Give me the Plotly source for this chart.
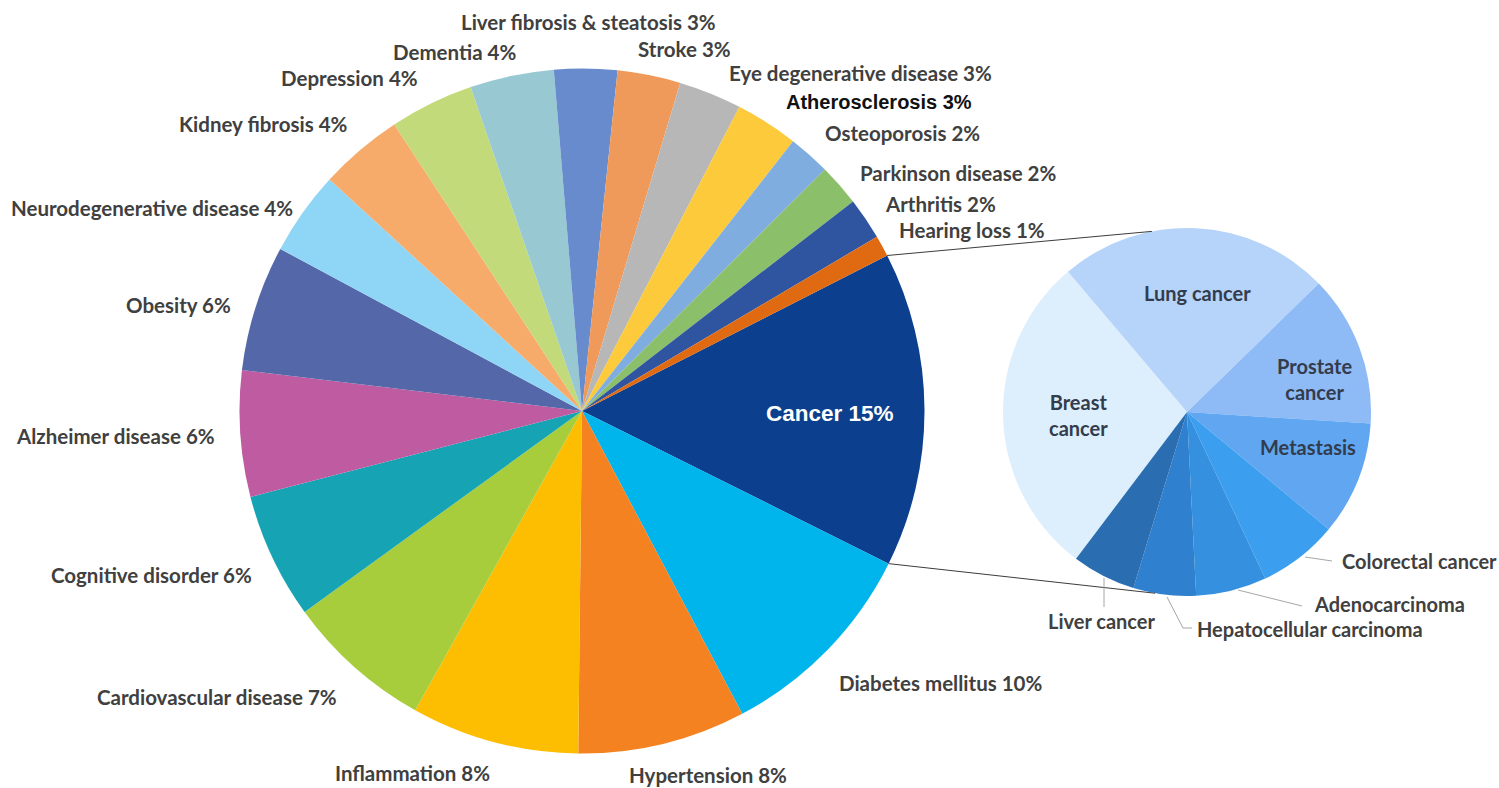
import math
import plotly.graph_objects as go

# ---- data -------------------------------------------------------------
diseases = [
    "Cancer", "Diabetes mellitus", "Hypertension", "Inflammation",
    "Cardiovascular disease", "Cognitive disorder", "Alzheimer disease",
    "Obesity", "Neurodegenerative disease", "Kidney fibrosis", "Depression",
    "Dementia", "Liver fibrosis & steatosis", "Stroke",
    "Eye degenerative disease", "Atherosclerosis", "Osteoporosis",
    "Parkinson disease", "Arthritis", "Hearing loss",
]
disease_pct = [15, 10, 8, 8, 7, 6, 6, 6, 4, 4, 4, 4, 3, 3, 3, 3, 2, 2, 2, 1]

cancers = [
    "Breast cancer", "Lung cancer", "Prostate cancer", "Metastasis",
    "Colorectal cancer", "Adenocarcinoma", "Hepatocellular carcinoma",
    "Liver cancer",
]
cancer_share = [28.5, 23.9, 13.3, 10.0, 7.0, 6.2, 5.5, 5.6]

# ---- styling ----------------------------------------------------------
disease_colors = [
    "#0c3f8e", "#00b4ec", "#f58220", "#fdbd00", "#a8cd3c", "#16a4b4",
    "#bf5ba0", "#5468a9", "#8fd5f5", "#f7ab6b", "#c2da79", "#98c8d2",
    "#678bcc", "#ef9a5a", "#b7b7b7", "#fcca3a", "#7faddf", "#8bbf69",
    "#2f55a0", "#e06a12",
]
cancer_colors = [
    "#ddeefc", "#b6d3fa", "#8ebaf5", "#60a6f1", "#3c9eef", "#3590df",
    "#2f80cf", "#2a6db1",
]

W, H = 1499, 788
MAIN_C, MAIN_R = (582.0, 411.0), 342.5
SUB_C, SUB_R = (1187.0, 412.0), 184.0
MAIN_ROT = 63.0      # compass angle where the first slice starts
SUB_ROT = 217.1
LINK_TOP_DEG, LINK_BOTTOM_DEG = 349.0, 190.0

FONT = "Lato"
TXT = "#404040"
LABEL_SIZE = 20.5
SUB_LABEL_SIZE = 20


def px(x):
    return x / W


def py(y):
    return 1 - y / H


def domain(c, r):
    return dict(x=[px(c[0] - r), px(c[0] + r)], y=[py(c[1] + r), py(c[1] - r)])


def on_circle(c, r, deg):
    a = math.radians(deg)
    return c[0] + r * math.sin(a), c[1] - r * math.cos(a)


fig = go.Figure()
fig.add_trace(go.Pie(
    labels=diseases, values=disease_pct, sort=False, direction="clockwise",
    rotation=MAIN_ROT, marker=dict(colors=disease_colors, line=dict(width=0)),
    textinfo="none", hovertemplate="%{label}: %{value}%<extra></extra>",
    domain=domain(MAIN_C, MAIN_R), showlegend=False,
))
fig.add_trace(go.Pie(
    labels=cancers, values=cancer_share, sort=False, direction="clockwise",
    rotation=SUB_ROT, marker=dict(colors=cancer_colors, line=dict(width=0)),
    textinfo="none", hovertemplate="%{label}<extra></extra>",
    domain=domain(SUB_C, SUB_R), showlegend=False,
))

# connector lines from the Cancer slice edges to the breakdown pie
total = sum(disease_pct)
cancer_start = MAIN_ROT
cancer_end = MAIN_ROT + 360.0 * disease_pct[0] / total
shapes = []
for main_deg, sub_deg in ((cancer_start, LINK_TOP_DEG), (cancer_end, LINK_BOTTOM_DEG)):
    x0, y0 = on_circle(MAIN_C, MAIN_R, main_deg)
    x1, y1 = on_circle(SUB_C, SUB_R, sub_deg)
    shapes.append(dict(type="line", xref="paper", yref="paper",
                       x0=px(x0), y0=py(y0), x1=px(x1), y1=py(y1),
                       line=dict(color="#3c3c3c", width=1)))

# leader lines for the small breakdown slices
leaders = [
    [(1305, 557), (1332, 561)],
    [(1238, 590), (1302, 606)],
    [(1167, 597), (1183, 628), (1192, 628)],
    [(1104, 578), (1104, 607)],
]
for pts in leaders:
    path = "M " + " L ".join(f"{px(x)} {py(y)}" for x, y in pts)
    shapes.append(dict(type="path", xref="paper", yref="paper", path=path,
                       line=dict(color="#a6a6a6", width=1)))

# label positions (pixel centres) for the disease slices
disease_label_pos = [
    (830, 413), (940, 683), (708, 775), (413, 773), (217, 697), (151, 575),
    (115, 436), (178, 305), (152, 208), (263, 124), (349, 78), (454, 52),
    (588, 22), (684, 49), (860, 73), (879, 102), (902, 133), (958, 173),
    (940, 204), (972, 230),
]

annotations = []
for name, pct, (x, y) in zip(diseases, disease_pct, disease_label_pos):
    if name == "Cancer":
        f = dict(family="Liberation Sans", size=22.5, color="white", weight="bold")
    elif name == "Atherosclerosis":
        f = dict(family="Liberation Sans", size=20, color="#111111", weight="bold")
    else:
        f = dict(family=FONT, size=LABEL_SIZE, color=TXT, weight="bold")
    annotations.append(dict(text=f"{name} {pct}%", x=px(x), y=py(y),
                            xref="paper", yref="paper", showarrow=False,
                            xanchor="center", yanchor="middle", font=f))

# breakdown labels: (x, y, anchor)
cancer_label_pos = [
    (1078, 415, "center"), (1197, 293, "center"), (1314, 379, "center"),
    (1308, 447, "center"), (1340, 561, "left"), (1312, 604, "left"),
    (1195, 629, "left"), (1102, 621, "center"),
]
for name, (x, y, anchor) in zip(cancers, cancer_label_pos):
    text = name
    if name in ("Breast cancer", "Prostate cancer"):
        text = name.replace(" ", "<br>")
    color = "#333c4c" if anchor == "center" and name != "Liver cancer" else TXT
    annotations.append(dict(text=text, x=px(x), y=py(y), xref="paper",
                            yref="paper", showarrow=False, xanchor=anchor,
                            yanchor="middle", align="center",
                            font=dict(family=FONT, size=SUB_LABEL_SIZE,
                                      color=color, weight="bold")))

fig.update_layout(
    width=W, height=H, margin=dict(l=0, r=0, t=0, b=0),
    paper_bgcolor="white", plot_bgcolor="white",
    shapes=shapes, annotations=annotations,
)

fig.write_html("out.html")
